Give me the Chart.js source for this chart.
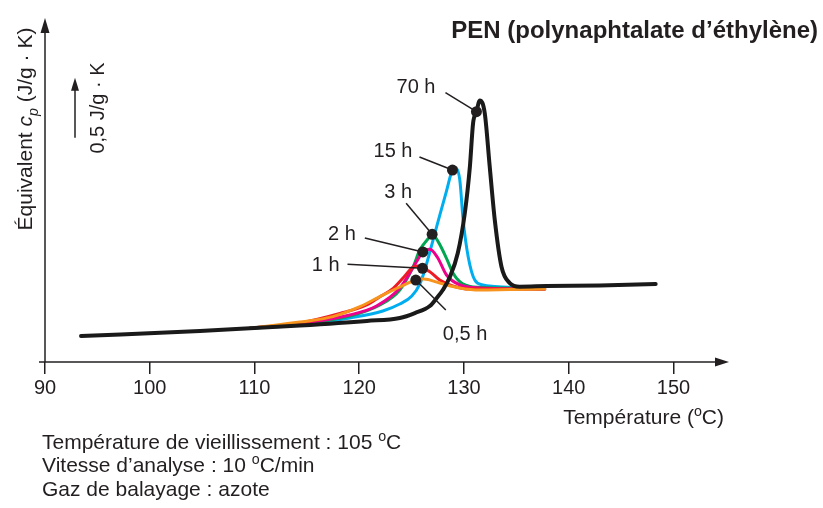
<!DOCTYPE html>
<html lang="fr">
<head>
<meta charset="utf-8">
<title>PEN – vieillissement physique</title>
<script src="https://cdn.jsdelivr.net/npm/chart.js@4.4.1/dist/chart.umd.min.js"></script>
<style>
  html, body { margin: 0; padding: 0; background: #fff; }
  canvas { display: block; }
</style>
</head>
<body>
<canvas id="grafica" width="823" height="508"></canvas>
<script>
// Durées de vieillissement et couleurs des courbes
const durees = ["70 h", "15 h", "3 h", "2 h", "1 h", "0,5 h"];
const couleurs = ["#1a1a1a", "#00aeef", "#00a651", "#ec008c", "#ed1c24", "#f7941d"];
const epaisseurs = [4, 3, 3, 3, 3, 3];
const ordreTrace = [0, 5, 4, 3, 2, 1]; // noir au-dessus, bleu en dessous

// Températures (°C) et cp équivalent (J/g·K, origine arbitraire)
const temp70h = [93.44, 104.79, 114.33, 120.73, 123.87, 125.31, 126.74, 127.4, 127.98, 128.65, 129.41, 130.08, 130.56, 130.87, 131.19, 131.51, 131.98, 132.46, 132.94, 133.58, 134.37, 135.32, 137.9, 142.96, 148.3];
const cp70h = [0.217, 0.258, 0.304, 0.342, 0.367, 0.408, 0.467, 0.533, 0.6, 0.708, 0.908, 1.242, 1.625, 1.992, 2.086, 2.18, 2.075, 1.625, 1.183, 0.794, 0.658, 0.628, 0.633, 0.638, 0.65];

const temp15h = [109.56, 114.33, 119.1, 122.25, 123.87, 125.02, 125.78, 126.26, 127.02, 127.69, 128.33, 128.9, 129.22, 129.6, 129.92, 130.4, 131.03, 131.79, 132.94, 135.32, 137.71];
const cp15h = [0.281, 0.308, 0.367, 0.425, 0.483, 0.55, 0.65, 0.767, 1.008, 1.225, 1.425, 1.6, 1.617, 1.517, 1.183, 0.878, 0.683, 0.642, 0.629, 0.621, 0.617];

const temp3h = [109.56, 114.33, 119.1, 121.97, 123.87, 125.14, 125.78, 126.55, 126.96, 127.53, 128.33, 128.96, 129.6, 130.84, 133.42, 137.71];
const cp3h = [0.281, 0.317, 0.383, 0.475, 0.6, 0.792, 0.933, 1.025, 1.064, 1.003, 0.864, 0.739, 0.669, 0.625, 0.617, 0.608];

const temp2h = [109.56, 114.33, 119.1, 121.65, 123.87, 125.47, 126.07, 126.74, 127.5, 128.33, 129.6, 131.51, 137.71];
const cp2h = [0.281, 0.321, 0.392, 0.467, 0.617, 0.836, 0.917, 0.939, 0.867, 0.725, 0.642, 0.617, 0.608];

const temp1h = [109.56, 114.33, 118.15, 120.7, 121.97, 123.24, 124.35, 125.02, 125.59, 126.04, 126.74, 127.69, 128.93, 130.56, 137.71];
const cp1h = [0.281, 0.325, 0.404, 0.475, 0.544, 0.614, 0.717, 0.783, 0.8, 0.781, 0.753, 0.683, 0.633, 0.608, 0.608];

const temp05h = [109.56, 114.33, 117.48, 120.06, 122.25, 123.87, 125.4, 126.16, 127.69, 129.6, 131.51, 134.37, 137.71];
const cp05h = [0.281, 0.333, 0.378, 0.461, 0.558, 0.625, 0.683, 0.692, 0.658, 0.617, 0.6, 0.604, 0.608];

const temperatures = [temp70h, temp15h, temp3h, temp2h, temp1h, temp05h];
const valeursCp = [cp70h, cp15h, cp3h, cp2h, cp1h, cp05h];

// Point repéré par une pastille sur chaque courbe
const pointsRepere = [14, 11, 8, 6, 9, 6];

const graduationsX = [90, 100, 110, 120, 130, 140, 150];

// Barre d'échelle : 0,5 J/g·K
const echelleCp = [1.87, 2.37];

// Renvois : extrémité du trait et position du texte, par rapport à la pastille
const renvois = [
  { fin: [-31, -19], texte: [-41, -19], align: "right" },
  { fin: [-33, -13], texte: [-40, -13], align: "right" },
  { fin: [-26, -31], texte: [-20, -36], align: "right" },
  { fin: [-58, -14], texte: [-67, -12], align: "right" },
  { fin: [-75, -4], texte: [-83, 3], align: "right" },
  { fin: [30, 30], texte: [27, 60], align: "left" }
];

const POLICE = '"Liberation Sans", Arial, Helvetica, sans-serif';
const ENCRE = "#231f20";

// Texte avec exposant / indice / italique, morceau par morceau
function texteRiche(ctx, morceaux, x, y, align, taille) {
  const style = (m) => {
    const t = m.sup || m.sub ? taille * 0.68 : taille;
    return (m.it ? "italic " : "") + (m.bold ? "bold " : "") + t + "px " + POLICE;
  };
  let largeur = 0;
  morceaux.forEach((m) => {
    ctx.font = style(m);
    largeur += ctx.measureText(m.t).width;
  });
  let cx = align === "right" ? x - largeur : align === "center" ? x - largeur / 2 : x;
  ctx.textAlign = "left";
  ctx.textBaseline = "alphabetic";
  morceaux.forEach((m) => {
    ctx.font = style(m);
    const dy = m.sup ? -taille * 0.4 : m.sub ? taille * 0.28 : 0;
    ctx.fillText(m.t, cx, y + dy);
    cx += ctx.measureText(m.t).width;
  });
}

function fleche(ctx, x1, y1, x2, y2, longueur, demiLargeur) {
  const a = Math.atan2(y2 - y1, x2 - x1);
  ctx.beginPath();
  ctx.moveTo(x1, y1);
  ctx.lineTo(x2 - Math.cos(a) * longueur * 0.6, y2 - Math.sin(a) * longueur * 0.6);
  ctx.stroke();
  ctx.beginPath();
  ctx.moveTo(x2, y2);
  ctx.lineTo(x2 - Math.cos(a) * longueur - Math.sin(a) * demiLargeur, y2 - Math.sin(a) * longueur + Math.cos(a) * demiLargeur);
  ctx.lineTo(x2 - Math.cos(a) * longueur + Math.sin(a) * demiLargeur, y2 - Math.sin(a) * longueur - Math.cos(a) * demiLargeur);
  ctx.closePath();
  ctx.fill();
}

// Axes fléchés, titres, renvois et légende de l'essai
const habillage = {
  id: "habillage",
  afterDatasetsDraw(chart) {
    const ctx = chart.ctx;
    const zone = chart.chartArea;
    ctx.save();
    ctx.strokeStyle = ENCRE;
    ctx.fillStyle = ENCRE;
    ctx.lineWidth = 1.5;

    // axes
    fleche(ctx, zone.left - 6, zone.bottom, zone.right, zone.bottom, 14, 4.5);
    fleche(ctx, zone.left, zone.bottom, zone.left, zone.top, 15, 4.5);

    // échelle 0,5 J/g·K
    const yEch = chart.scales.y;
    fleche(ctx, 75, yEch.getPixelForValue(echelleCp[0]), 75, yEch.getPixelForValue(echelleCp[1]), 13, 4);

    ctx.save();
    ctx.translate(104, 108);
    ctx.rotate(-Math.PI / 2);
    texteRiche(ctx, [{ t: "0,5 J/g · K" }], 0, 0, "center", 20);
    ctx.restore();

    ctx.save();
    ctx.translate(32, 129);
    ctx.rotate(-Math.PI / 2);
    texteRiche(ctx, [
      { t: "Équivalent " },
      { t: "c", it: true },
      { t: "p", it: true, sub: true },
      { t: " (J/g · K)" }
    ], 0, 0, "center", 21);
    ctx.restore();

    texteRiche(ctx, [{ t: "Température (" }, { t: "o", sup: true }, { t: "C)" }], 724, 424, "right", 21);

    texteRiche(ctx, [{ t: "PEN (polynaphtalate d’éthylène)", bold: true }], 818, 38, "right", 24);

    // légende de l'essai
    texteRiche(ctx, [{ t: "Température de vieillissement : 105 " }, { t: "o", sup: true }, { t: "C" }], 42, 449, "left", 21);
    texteRiche(ctx, [{ t: "Vitesse d’analyse : 10 " }, { t: "o", sup: true }, { t: "C/min" }], 42, 472, "left", 21);
    texteRiche(ctx, [{ t: "Gaz de balayage : azote" }], 42, 496, "left", 21);

    // renvois vers les pastilles
    ctx.lineWidth = 1.5;
    renvois.forEach((r, i) => {
      const pt = chart.getDatasetMeta(i).data[pointsRepere[i]];
      ctx.beginPath();
      ctx.moveTo(pt.x, pt.y);
      ctx.lineTo(pt.x + r.fin[0], pt.y + r.fin[1]);
      ctx.stroke();
      texteRiche(ctx, [{ t: durees[i] }], pt.x + r.texte[0], pt.y + r.texte[1], r.align, 20);
      ctx.beginPath();
      ctx.arc(pt.x, pt.y, 5.5, 0, Math.PI * 2);
      ctx.fill();
    });
    ctx.restore();
  }
};

const jeuxDonnees = durees.map((d, i) => ({
  label: d,
  data: temperatures[i].map((t, k) => ({ x: t, y: valeursCp[i][k] })),
  borderColor: couleurs[i],
  backgroundColor: couleurs[i],
  borderWidth: epaisseurs[i],
  cubicInterpolationMode: "monotone",
  pointRadius: 0,
  fill: false,
  order: ordreTrace[i],
  borderCapStyle: "round",
  borderJoinStyle: "round"
}));

const config = {
  type: "line",
  data: { datasets: jeuxDonnees },
  options: {
    responsive: false,
    animation: false,
    events: [],
    layout: { padding: { left: 45, top: 18, right: 94, bottom: 0 } },
    plugins: { legend: { display: false }, tooltip: { enabled: false } },
    scales: {
      x: {
        type: "linear",
        min: 90,
        max: 155.3,
        afterBuildTicks: (s) => { s.ticks = graduationsX.map((v) => ({ value: v })); },
        afterFit: (s) => { s.height = 146; },
        grid: { drawOnChartArea: false, drawTicks: true, tickLength: 12, color: ENCRE, lineWidth: 1.5 },
        border: { display: false },
        ticks: { font: { family: POLICE, size: 20 }, color: ENCRE, padding: 2, maxRotation: 0, autoSkip: false }
      },
      y: { type: "linear", display: false, min: 0, max: 2.867 }
    }
  },
  plugins: [habillage]
};

new Chart(document.getElementById("grafica"), config);
</script>
</body>
</html>
